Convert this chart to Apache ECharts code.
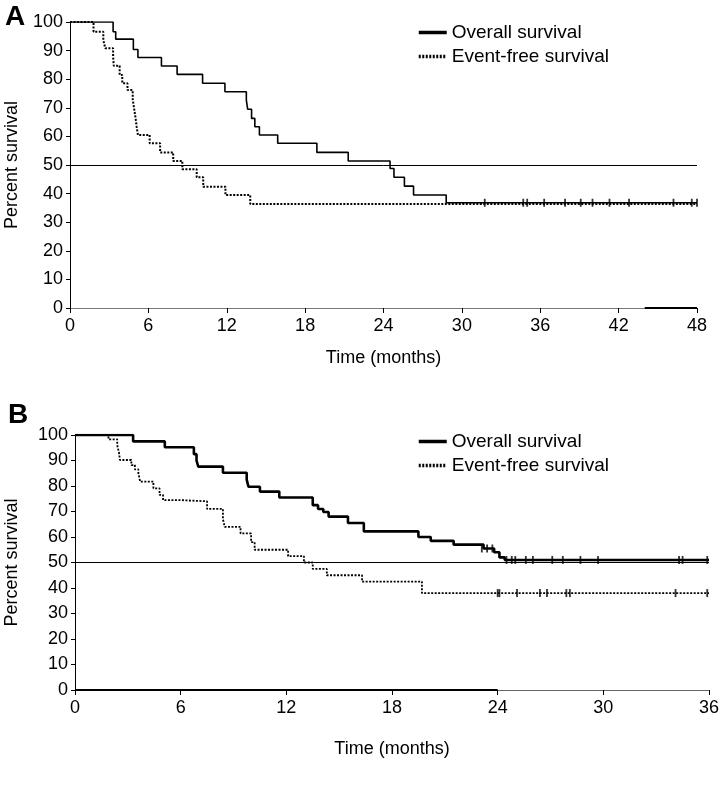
<!DOCTYPE html>
<html><head><meta charset="utf-8">
<script src="https://cdn.jsdelivr.net/npm/echarts@6/dist/echarts.min.js"></script>
<style>html,body{margin:0;padding:0;background:#fff}#c{width:722px;height:785px}</style>
</head><body><div id="c"></div>
<script>
// Panel A (months, percent)
const aOSTime = [0, 3.3, 3.5, 4.85, 5.2, 7.0, 8.2, 10.15, 11.86, 13.5, 13.6, 13.9, 14.15, 14.5, 15.9, 18.9, 21.3, 24.5, 24.8, 25.6, 26.3, 28.8, 48];
const aOSSurv = [100, 96.6, 94, 90.4, 87.6, 84.6, 81.7, 78.6, 75.6, 72.7, 69.5, 66.3, 63.4, 60.5, 57.6, 54.4, 51.4, 48.8, 45.7, 42.6, 39.5, 36.8, 36.8];
const aEFSTime = [0, 1.8, 2.55, 2.7, 3.3, 3.35, 3.8, 4.0, 4.4, 4.8, 4.9, 5.0, 5.1, 5.2, 6.1, 6.9, 7.9, 8.6, 9.7, 10.2, 11.9, 13.8, 48];
const aEFSSurv = [100, 96.6, 93.7, 90.8, 87.9, 84.7, 81.5, 78.6, 76.2, 73, 70, 67, 63.5, 60.5, 57.6, 54.4, 51.4, 48.5, 45.7, 42.4, 39.5, 36.4, 36.4];
const aCensorTime = [31.75, 34.7, 35.0, 36.3, 37.9, 39.1, 40.0, 41.3, 42.8, 46.2, 47.6, 48.0];
const aCensorSurv = [36.8, 36.8, 36.8, 36.8, 36.8, 36.8, 36.8, 36.8, 36.8, 36.8, 36.8, 36.8];
// Panel B
const bOSTime = [0, 3.3, 5.1, 6.75, 6.9, 7.0, 8.4, 9.75, 9.85, 10.5, 11.6, 13.5, 13.8, 14.1, 14.4, 15.5, 16.4, 19.5, 20.2, 21.5, 23.2, 23.8, 24.1, 24.4, 36];
const bOSSurv = [100, 97.5, 95.2, 92.5, 90, 87.6, 85.2, 82.5, 79.7, 77.8, 75.5, 72.5, 71, 69.8, 68, 65.5, 62.2, 60, 58.5, 57, 55.5, 54, 52, 51, 51];
const bEFSTime = [0, 1.9, 2.4, 2.5, 2.55, 3.2, 3.4, 3.6, 3.7, 4.45, 4.8, 5.0, 5.9, 7.5, 8.4, 8.5, 9.4, 10.0, 10.2, 12.1, 13.0, 13.5, 14.3, 16.3, 19.7, 36];
const bEFSSurv = [100, 98.3, 96, 93, 90.2, 88.2, 86.5, 85, 81.7, 79.1, 76.5, 74.5, 74, 71, 67, 64, 61.4, 58, 55, 52.5, 50, 47.5, 45, 42.5, 38, 38];
const bOSCensorTime = [23.1, 23.4, 23.7, 24.5, 24.8, 25.0, 25.6, 26.0, 27.1, 27.7, 28.7, 29.7, 34.3, 34.5, 35.9];
const bOSCensorSurv = [55.5, 55.5, 55.5, 51, 51, 51, 51, 51, 51, 51, 51, 51, 51, 51, 51];
const bEFSCensorTime = [24.0, 24.1, 25.1, 26.4, 26.8, 27.9, 28.1, 34.1, 35.9];
const bEFSCensorSurv = [38, 38, 38, 38, 38, 38, 38, 38, 38];
const yTicks = [0, 10, 20, 30, 40, 50, 60, 70, 80, 90, 100];
const seriesNames = ['Overall survival', 'Event-free survival'];
const refLevel = 50;
// x-axis segments drawn heavier in the original figure [from, to] in months
const aHeavyAxis = [44, 48];
const bHeavyAxis = [0, 24];

const zip = (t, s) => t.map((v, i) => [v, s[i]]);
const FONT = "'Liberation Sans', Arial, Helvetica, sans-serif";

function xAx(gi, max, gap, col) {
  return {
    type: 'value', gridIndex: gi, min: 0, max: max, interval: 6,
    name: 'Time (months)', nameLocation: 'middle', nameGap: gap,
    nameTextStyle: { fontFamily: FONT, fontSize: 18, color: '#000' },
    axisLine: { onZero: false, lineStyle: { color: col, width: 1 } },
    axisTick: { show: true, length: 5, lineStyle: { color: '#000' } },
    axisLabel: { fontFamily: FONT, fontSize: 18, color: '#000', margin: 9 },
    splitLine: { show: false }
  };
}
function yAx(gi, gap) {
  return {
    type: 'value', gridIndex: gi, min: 0, max: 100, interval: 10,
    name: 'Percent survival', nameLocation: 'middle', nameGap: gap, nameRotate: 90,
    nameTextStyle: { fontFamily: FONT, fontSize: 18, color: '#000' },
    axisLine: { show: true, lineStyle: { color: '#000', width: 1 } },
    axisTick: { show: true, length: 4, lineStyle: { color: '#000' } },
    axisLabel: { fontFamily: FONT, fontSize: 18, color: '#000', margin: 7,
      formatter: v => yTicks.includes(v) ? String(v) : '' },
    splitLine: { show: false }
  };
}
function marks(max, heavy) {
  return {
    silent: true, symbol: 'none', label: { show: false },
    lineStyle: { color: '#000', width: 1, type: 'solid' },
    data: [
      [{ coord: [0, refLevel] }, { coord: [max, refLevel] }],
      [{ coord: [heavy[0], 0], lineStyle: { width: 2.2 } }, { coord: [heavy[1], 0] }]
    ]
  };
}
function km(name, xi, data, width, dotted, mark) {
  const s = {
    name: name, type: 'line', xAxisIndex: xi, yAxisIndex: xi, step: 'end',
    data: data, symbol: 'none', showSymbol: false, animation: false,
    lineStyle: { color: '#000', width: width, type: dotted ? [2, 1.5] : 'solid' },
    itemStyle: { color: '#000' }
  };
  if (mark) s.markLine = mark;
  return s;
}
function censor(xi, data) {
  return {
    name: 'censor' + xi + data.length, type: 'scatter', xAxisIndex: xi, yAxisIndex: xi,
    data: data, symbol: 'rect', symbolSize: [1.8, 8], animation: false,
    itemStyle: { color: '#000' }, silent: true
  };
}
function legend(top) {
  return {
    orient: 'vertical', left: 412, top: top, itemWidth: 28, itemHeight: 14, itemGap: 5,
    data: seriesNames, textStyle: { fontFamily: FONT, fontSize: 19, color: '#000' },
    lineStyle: { width: 3.5 }, itemStyle: { opacity: 0, borderWidth: 0 }, selectedMode: false
  };
}

const chart = echarts.init(document.getElementById('c'), null, { renderer: 'canvas' });
chart.setOption({
  backgroundColor: '#fff',
  animation: false,
  title: [
    { text: 'A', left: 0, top: -2, textStyle: { fontFamily: FONT, fontSize: 28, fontWeight: 'bold', color: '#000' } },
    { text: 'B', left: 3, top: 396, textStyle: { fontFamily: FONT, fontSize: 28, fontWeight: 'bold', color: '#000' } }
  ],
  legend: [legend(18), legend(427)],
  grid: [
    { left: 70, width: 627, top: 22, height: 286, outerBoundsMode: 'none', containLabel: false },
    { left: 75, width: 634, top: 435, height: 255, outerBoundsMode: 'none', containLabel: false }
  ],
  xAxis: [xAx(0, 48, 41, '#777'), xAx(1, 36, 50, '#666')],
  yAxis: [yAx(0, 49), yAx(1, 54)],
  series: [
    km(seriesNames[0], 0, zip(aOSTime, aOSSurv), 1.6, false, marks(48, aHeavyAxis)),
    km(seriesNames[1], 0, zip(aEFSTime, aEFSSurv), 2, true),
    censor(0, zip(aCensorTime, aCensorSurv)),
    km(seriesNames[0], 1, zip(bOSTime, bOSSurv), 2.6, false, marks(36, bHeavyAxis)),
    km(seriesNames[1], 1, zip(bEFSTime, bEFSSurv), 1.8, true),
    censor(1, zip(bOSCensorTime, bOSCensorSurv)),
    censor(1, zip(bEFSCensorTime, bEFSCensorSurv))
  ]
});
</script></body></html>
